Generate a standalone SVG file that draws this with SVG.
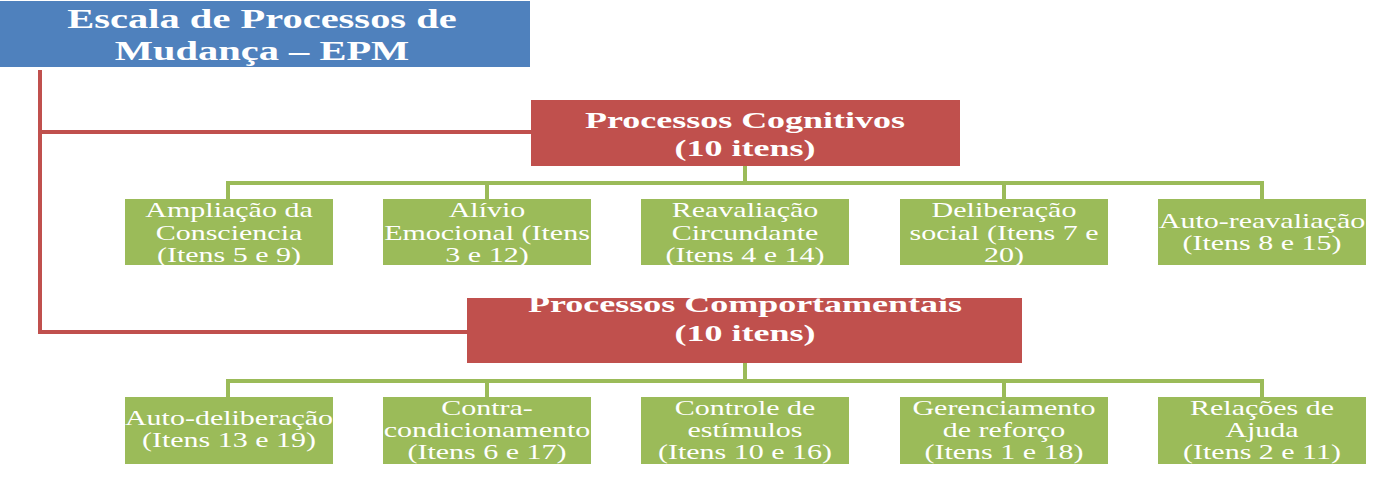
<svg xmlns="http://www.w3.org/2000/svg" width="1377" height="477" viewBox="0 0 1377 477">
<style>
.blue{fill:#4F81BD}
.red{fill:#C0504D}
.grn{fill:#9BBB59}
.rl{fill:none;stroke:#C0504D;stroke-width:4}
.gl{fill:none;stroke:#9BBB59;stroke-width:4}
.tt{font-family:"Liberation Serif","Times New Roman",serif;font-weight:bold;font-size:27px;fill:#fff;text-anchor:middle}
.ht{font-family:"Liberation Serif","Times New Roman",serif;font-weight:bold;font-size:24px;fill:#fff;text-anchor:middle}
.lt{font-family:"Liberation Serif","Times New Roman",serif;font-size:20px;fill:#fff;text-anchor:middle}
</style>
<rect width="1377" height="477" fill="#fff"/>
<g id="connectors">
<path class="rl" d="M40 70 V332 H467 M40 132 H531"/>
<path class="gl" d="M745 166 V183 M228 199 V183 H1262 V199 M487 183 V199 M1004 183 V199"/>
<path class="gl" d="M745 363 V381 M228 397 V381 H1262 V397 M487 381 V397 M1004 381 V397"/>
</g>
<g id="epm">
<rect class="blue" x="0" y="1" width="530" height="66"/>
<g transform="translate(262,0) scale(1.5,1)"><text class="tt" x="0" y="28">Escala de Processos de</text><text class="tt" x="0" y="60">Mudança – EPM</text></g>
</g>
<g id="cognitivos">
<rect class="red" x="531" y="100" width="429" height="66"/>
<g transform="translate(745,0) scale(1.5,1)"><text class="ht" x="0" y="128">Processos Cognitivos</text><text class="ht" x="0" y="156">(10 itens)</text></g>
</g>
<g id="comportamentais">
<rect class="red" x="467" y="298" width="555" height="65"/>
<g transform="translate(745,0) scale(1.5,1)"><text class="ht" x="0" y="312">Processos Comportamentais</text><text class="ht" x="0" y="341">(10 itens)</text></g>
</g>
<g id="ampliacao">
<rect class="grn" x="125" y="199" width="208" height="66"/>
<g transform="translate(229,0) scale(1.5,1)"><text class="lt" x="0" y="217">Ampliação da</text><text class="lt" x="0" y="240">Consciencia</text><text class="lt" x="0" y="262">(Itens 5 e 9)</text></g>
</g>
<g id="alivio">
<rect class="grn" x="383" y="199" width="208" height="66"/>
<g transform="translate(487,0) scale(1.5,1)"><text class="lt" x="0" y="217">Alívio</text><text class="lt" x="0" y="240">Emocional (Itens</text><text class="lt" x="0" y="262">3 e 12)</text></g>
</g>
<g id="reavaliacao">
<rect class="grn" x="641" y="199" width="208" height="66"/>
<g transform="translate(745,0) scale(1.5,1)"><text class="lt" x="0" y="217">Reavaliação</text><text class="lt" x="0" y="240">Circundante</text><text class="lt" x="0" y="262">(Itens 4 e 14)</text></g>
</g>
<g id="deliberacao">
<rect class="grn" x="900" y="199" width="208" height="66"/>
<g transform="translate(1004,0) scale(1.5,1)"><text class="lt" x="0" y="217">Deliberação</text><text class="lt" x="0" y="240">social (Itens 7 e</text><text class="lt" x="0" y="262">20)</text></g>
</g>
<g id="autoreavaliacao">
<rect class="grn" x="1158" y="199" width="208" height="66"/>
<g transform="translate(1262,0) scale(1.5,1)"><text class="lt" x="0" y="228">Auto-reavaliação</text><text class="lt" x="0" y="250">(Itens 8 e 15)</text></g>
</g>
<g id="autodeliberacao">
<rect class="grn" x="125" y="397" width="208" height="67"/>
<g transform="translate(229,0) scale(1.5,1)"><text class="lt" x="0" y="425">Auto-deliberação</text><text class="lt" x="0" y="447">(Itens 13 e 19)</text></g>
</g>
<g id="contra">
<rect class="grn" x="383" y="397" width="208" height="67"/>
<g transform="translate(487,0) scale(1.5,1)"><text class="lt" x="0" y="415">Contra-</text><text class="lt" x="0" y="437">condicionamento</text><text class="lt" x="0" y="459">(Itens 6 e 17)</text></g>
</g>
<g id="controle">
<rect class="grn" x="641" y="397" width="208" height="67"/>
<g transform="translate(745,0) scale(1.5,1)"><text class="lt" x="0" y="415">Controle de</text><text class="lt" x="0" y="437">estímulos</text><text class="lt" x="0" y="459">(Itens 10 e 16)</text></g>
</g>
<g id="gerenciamento">
<rect class="grn" x="900" y="397" width="208" height="67"/>
<g transform="translate(1004,0) scale(1.5,1)"><text class="lt" x="0" y="415">Gerenciamento</text><text class="lt" x="0" y="437">de reforço</text><text class="lt" x="0" y="459">(Itens 1 e 18)</text></g>
</g>
<g id="relacoes">
<rect class="grn" x="1158" y="397" width="208" height="67"/>
<g transform="translate(1262,0) scale(1.5,1)"><text class="lt" x="0" y="415">Relações de</text><text class="lt" x="0" y="437">Ajuda</text><text class="lt" x="0" y="459">(Itens 2 e 11)</text></g>
</g>
</svg>
